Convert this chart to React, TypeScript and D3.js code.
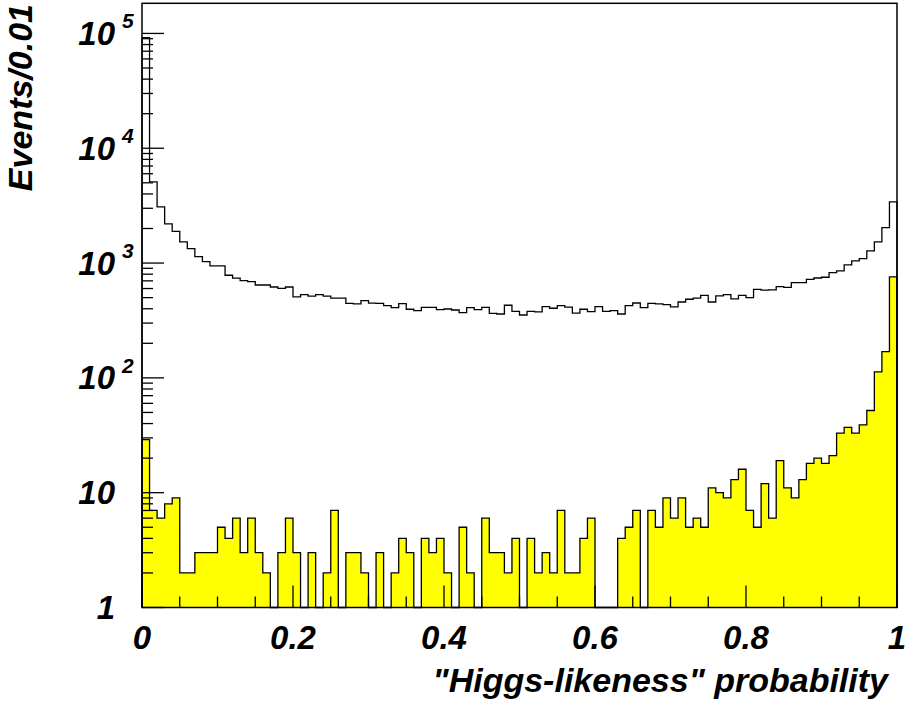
import { useRef, useEffect } from 'react'
import * as d3 from 'd3'

// 100 bins of width 0.01 on [0, 1]
const BINS = 100

// total sample (black outline)
const BACKGROUND = [
  92000, 5100, 3080, 2190, 1890, 1530, 1335, 1140, 1030, 944,
  944, 783, 738, 703, 689, 644, 644, 619, 603, 619,
  507, 531, 516, 531, 516, 494, 494, 446, 441, 471,
  448, 446, 426, 409, 443, 396, 385, 412, 412, 393,
  398, 390, 370, 409, 393, 412, 365, 360, 429, 380,
  353, 380, 375, 417, 404, 426, 414, 367, 396, 378,
  417, 380, 385, 360, 426, 449, 409, 446, 441, 434,
  415, 458, 484, 494, 524, 458, 517, 531, 487, 524,
  500, 591, 580, 585, 623, 615, 675, 675, 722, 741,
  752, 826, 854, 963, 1043, 1093, 1275, 1527, 2036, 3405,
]

// Higgs sample (yellow fill)
const SIGNAL = [
  29, 7, 6, 8, 9, 2, 2, 3, 3, 3,
  5, 4, 6, 3, 6, 3, 2, 0, 3, 6,
  3, 0, 3, 0, 2, 7, 0, 3, 3, 2,
  0, 3, 0, 2, 4, 3, 0, 4, 3, 4,
  2, 0, 5, 2, 0, 6, 3, 3, 2, 4,
  0, 4, 2, 3, 2, 7, 2, 2, 4, 6,
  0, 0, 0, 4, 5, 7, 0, 7, 5, 9,
  6, 9, 5, 6, 5, 11, 10, 9, 13, 16,
  7, 5, 12, 6, 19, 11, 9, 13, 18, 20,
  18, 21, 33, 37, 33, 39, 52, 113, 169, 757,
]

const X_TICKS = [0, 0.2, 0.4, 0.6, 0.8, 1]
const X_LABELS = ['0', '0.2', '0.4', '0.6', '0.8', '1']
const Y_TICKS = [1, 10, 100, 1000, 10000, 100000]
const Y_BASE = ['1', '10', '10', '10', '10', '10']
const Y_EXP = ['', '', '2', '3', '4', '5']

const X_TITLE = '"Higgs-likeness" probability'
const Y_TITLE = 'Events/0.01'

const FONT = '"Liberation Sans", Arial, Helvetica, sans-serif'

export default function App() {
  const svgRef = useRef<SVGSVGElement>(null)

  useEffect(() => {
    const width = 907
    const height = 704
    const left = 142, right = 897, top = 3.3, bottom = 607.5

    const svg = d3.select(svgRef.current)
      .attr('width', width)
      .attr('height', height)
    svg.selectAll('*').remove()

    svg.append('rect').attr('width', width).attr('height', height).attr('fill', '#fff')

    const x = d3.scaleLinear().domain([0, 1]).range([left, right])
    const y = d3.scaleLog().domain([1, 1.83e5]).range([bottom, top])

    const edges = d3.range(BINS + 1).map(i => i / BINS)
    const steps = (vals: number[]) => {
      const pts: [number, number][] = [[x(0), y(1)]]
      vals.forEach((v, i) => {
        const yy = v > 0 ? y(Math.max(v, 1)) : y(1)
        pts.push([x(edges[i]), yy], [x(edges[i + 1]), yy])
      })
      pts.push([x(1), y(1)])
      return pts
    }
    const line = d3.line()

    // filled signal histogram
    svg.append('path')
      .attr('d', line(steps(SIGNAL)))
      .attr('fill', '#ffff00')
      .attr('stroke', '#000')
      .attr('stroke-width', 1.3)

    // background histogram outline
    svg.append('path')
      .attr('d', line(steps(BACKGROUND)))
      .attr('fill', 'none')
      .attr('stroke', '#000')
      .attr('stroke-width', 1.3)

    // frame
    svg.append('rect')
      .attr('x', left).attr('y', top)
      .attr('width', right - left).attr('height', bottom - top)
      .attr('fill', 'none')
      .attr('stroke', '#000')
      .attr('stroke-width', 1.5)

    // y ticks (inside, log)
    const yt = y.ticks().filter(t => t >= 1 && t <= 1.83e5)
    svg.append('g').selectAll('line')
      .data(yt)
      .join('line')
      .attr('x1', left)
      .attr('x2', d => left + (Math.abs(Math.log10(d) - Math.round(Math.log10(d))) < 1e-9 ? 22 : 11))
      .attr('y1', d => y(d))
      .attr('y2', d => y(d))
      .attr('stroke', '#000')
      .attr('stroke-width', 1.3)

    // x ticks (inside)
    const xt = x.ticks(20)
    svg.append('g').selectAll('line')
      .data(xt)
      .join('line')
      .attr('x1', d => x(d))
      .attr('x2', d => x(d))
      .attr('y1', bottom)
      .attr('y2', d => bottom - (Math.abs(d * 5 - Math.round(d * 5)) < 1e-9 ? 22 : 11))
      .attr('stroke', '#000')
      .attr('stroke-width', 1.3)

    const txt = (g: any) => g
      .attr('font-family', FONT)
      .attr('font-weight', 'bold')
      .attr('font-style', 'italic')
      .attr('fill', '#000')

    // x labels
    svg.append('g').selectAll('text')
      .data(X_TICKS)
      .join('text')
      .call(txt)
      .attr('x', d => x(d))
      .attr('y', 649)
      .attr('text-anchor', 'middle')
      .attr('font-size', 33)
      .text((d, i) => X_LABELS[i])

    // y labels: base + exponent
    svg.append('g').selectAll('text')
      .data(Y_TICKS)
      .join('text')
      .call(txt)
      .attr('x', 115)
      .attr('y', d => y(d) + 11.5)
      .attr('text-anchor', 'end')
      .attr('font-size', 33)
      .text((d, i) => Y_BASE[i])

    svg.append('g').selectAll('text')
      .data(Y_TICKS)
      .join('text')
      .call(txt)
      .attr('x', 122)
      .attr('y', d => y(d) - 5)
      .attr('font-size', 21)
      .text((d, i) => Y_EXP[i])

    // axis titles
    svg.append('text')
      .call(txt)
      .attr('x', 888)
      .attr('y', 692)
      .attr('text-anchor', 'end')
      .attr('font-size', 34)
      .text(X_TITLE)

    svg.append('text')
      .call(txt)
      .attr('transform', 'translate(32, 4) rotate(-90)')
      .attr('text-anchor', 'end')
      .attr('font-size', 34)
      .text(Y_TITLE)
  }, [])

  return <svg ref={svgRef} style={{ display: 'block', position: 'absolute', left: 0, top: 0 }} />
}
